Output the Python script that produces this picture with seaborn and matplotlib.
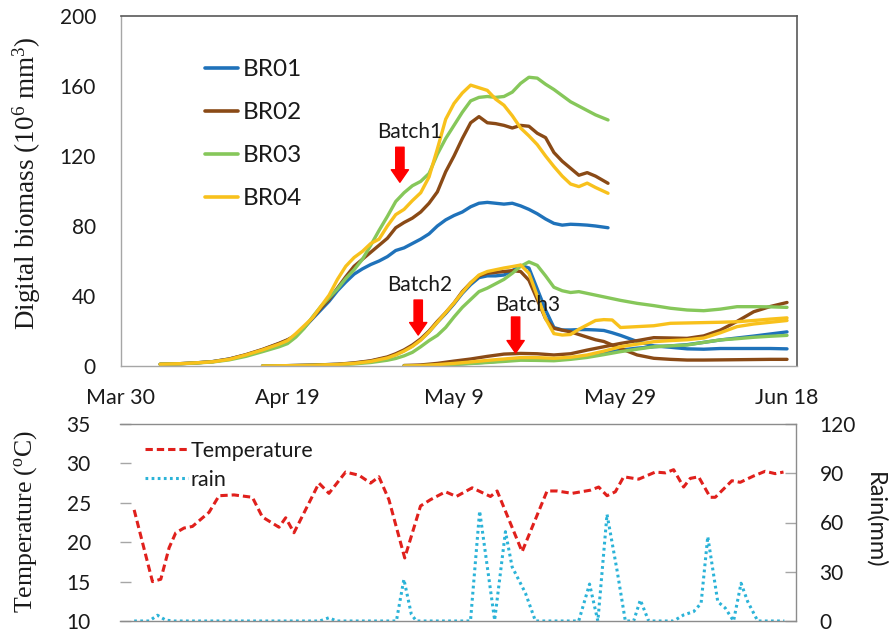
import matplotlib
matplotlib.use("Agg")
import matplotlib.pyplot as plt
from matplotlib.lines import Line2D
import pandas as pd
import seaborn as sns

# ---- data --------------------------------------------------------------
# x positions are days after Mar 30
date_ticks = [0, 20, 40, 60, 80]
date_labels = ["Mar 30", "Apr 19", "May 9", "May 29", "Jun 18"]

cultivars = ["BR01", "BR02", "BR03", "BR04"]
cultivar_colors = ["#1F72BA", "#8A4A16", "#86C75A", "#F8C11C"]

batch1_days = [4.7, 7, 9, 11, 13, 15, 17, 19,
               20, 21, 22, 23, 24, 25, 26, 27, 28, 29,
               30, 31, 32, 33, 34, 35, 36, 37, 38, 39,
               40, 41, 42, 43, 44, 45, 46, 47, 48, 49,
               50, 51, 52, 53, 54, 55, 56, 57, 58.5]
br01_batch1 = [1.0, 1.3, 1.8, 2.5, 4.0, 6.3, 9.3, 12.8,
               14.8, 17.5, 22, 27, 32, 37, 43, 48, 52.5, 55.5,
               58, 60, 62.5, 66, 67.5, 70, 72.5, 75.5, 80, 83.5,
               86, 88, 91, 93, 93.5, 93, 92.5, 93, 91.5, 89.5,
               87, 84, 81.5, 80.5, 81, 80.8, 80.5, 80, 79]
br02_batch1 = [1.0, 1.3, 1.8, 2.5, 4.0, 6.5, 9.5, 13,
               15, 17.5, 22, 27.5, 33, 38, 44.5, 51, 57, 61,
               65, 69, 73, 79, 82, 84.5, 88, 93, 99.5, 111,
               120, 130, 139, 142.5, 139, 138.5, 137.5, 136, 137.5, 137,
               133, 130.5, 122, 117, 113, 109, 110.5, 108.5, 104.4]
br03_batch1 = [1.0, 1.2, 1.7, 2.3, 3.5, 5.5, 8.2, 11,
               12.8, 16.5, 21.5, 28, 34, 39, 44, 50, 55, 61,
               69, 77.5, 85.5, 94, 99, 103, 105.5, 110, 121, 130,
               137.5, 145, 151.5, 153.5, 154, 153.5, 154, 156.5, 161.5, 165,
               164.5, 161, 158, 154.5, 151, 148.5, 146, 143.5, 140.6]
br04_batch1 = [1.0, 1.3, 1.8, 2.4, 3.8, 6.3, 9.2, 12.5,
               14.5, 18.5, 23, 27.5, 34, 40.5, 49.5, 57, 62, 65.5,
               70, 72.5, 80, 86.5, 89.5, 94.5, 99, 108, 124, 141,
               150, 156, 160.5, 159, 157.5, 152.5, 149, 143, 136, 131.5,
               126.5, 120, 114, 108.5, 104, 102.5, 104.5, 102, 98.7]

batch2_days = [17, 20, 23, 26, 28, 30, 32,
               33, 34, 35, 36, 37, 38, 39, 40, 41, 42,
               43, 44, 45, 46, 47, 48, 49, 50, 51, 52,
               53, 54, 55, 56, 57, 58, 59, 60,
               62, 64, 66, 68, 70, 72, 74, 76, 78, 80]
br01_batch2 = [0, 0.2, 0.5, 1.0, 1.6, 2.8, 4.8,
               6.5, 8.8, 11.5, 15, 19.5, 25, 30, 35.5, 41.5, 46.5,
               50.5, 51.5, 51.5, 52, 54.5, 57.5, 56, 44, 32, 22,
               20.6, 20.6, 20.8, 20.8, 20.6, 20.3, 19, 17.5,
               14, 11.5, 10.7, 9.8, 9.6, 10, 10, 10, 10, 9.8]
br02_batch2 = [0, 0.2, 0.5, 1.0, 1.8, 3.0, 5.2,
               7.0, 9.2, 12, 15.5, 20, 25.5, 30.5, 36, 42.5, 47.5,
               51.5, 53, 53.5, 54, 54.5, 54, 49, 38, 27, 21.5,
               20.5, 19.5, 18, 16.5, 15, 14, 12, 10,
               6.3, 4.4, 3.8, 3.4, 3.4, 3.5, 3.6, 3.7, 3.8, 3.8]
br03_batch2 = [0, 0.1, 0.3, 0.7, 1.2, 2.0, 3.3,
               4.3, 5.8, 7.8, 11, 14.5, 17.5, 22, 28, 33.5, 38,
               42.5, 44.5, 47, 49.5, 53, 57, 59.5, 57.5, 51.5, 45,
               43, 42, 42.5, 41.5, 40.5, 39.5, 38.5, 37.5,
               35.8, 34.5, 33, 32, 31.6, 32.5, 33.9, 33.9, 33.8, 33.5]
br04_batch2 = [0, 0.2, 0.4, 0.9, 1.5, 2.6, 4.6,
               6.3, 8.5, 11.2, 14.8, 19.5, 25, 30.5, 36, 42, 47.5,
               52, 54, 55, 56, 56.8, 57.7, 53, 40, 27, 18.5,
               17.7, 18, 21, 23.5, 26, 26.5, 26.3, 22,
               22.5, 23, 24.4, 24.6, 24.8, 25, 25.3, 26, 26.8, 27.5]

batch3_days = [34, 36, 38, 40, 42, 44, 46, 48, 50, 52, 54, 56,
               58, 60, 62, 64, 66, 68, 70, 72, 74, 76, 78, 80]
br01_batch3 = [0, 0.2, 0.6, 1, 1.6, 2.2, 3, 4, 3.8, 3.4, 4.3, 5.7,
               7.3, 9.1, 10.2, 11, 11.5, 12.2, 13.5, 14.9, 16, 17.1, 18.3, 19.5]
br02_batch3 = [0.3, 0.6, 1.5, 2.8, 4, 5.5, 6.8, 7.2, 7.0, 6.3, 7.0, 9.1,
               11, 12.9, 14.5, 16.2, 16, 15.8, 17.2, 20.5, 25.5, 31, 34, 36.3]
br03_batch3 = [0, 0.2, 0.5, 0.9, 1.4, 2, 2.6, 3.3, 3.2, 3, 3.8, 4.9,
               6.5, 8.2, 9.6, 11, 11.5, 12, 13.5, 14.9, 15.6, 16.4, 17, 17.5]
br04_batch3 = [0, 0.2, 0.8, 1.5, 2.3, 3.2, 4, 4.8, 4.8, 4.4, 5, 6.3,
               8.5, 11, 12.5, 13.9, 14.5, 15, 16, 19, 22.5, 24, 25, 26]

batch_names = ["Batch1", "Batch2", "Batch3"]
batch_arrow_days = [33.5, 35.7, 47.4]
batch_arrow_from = [125, 37.7, 28]
batch_arrow_to = [105, 17.7, 7.4]
batch_label_days = [34.7, 35.9, 48.8]
batch_label_values = [133.7, 46.3, 35]

temp_days = [1.7, 3.9, 4.9, 5.9, 6.7, 7.7, 8.7, 10.7, 11.9, 13.7, 15.9, 17.1,
             19.1, 19.9, 20.9, 23.9, 25.1, 27.1, 28.7, 30.1, 31.1, 32.3, 34.2,
             36.1, 37.3, 39.1, 40.4, 42.3, 44.5, 45.3, 48.3, 51.3, 52.5, 54.3,
             56.5, 57.5, 58.5, 59.5, 60.5, 62.3, 64.3, 65.5, 66.5, 67.7, 68.5,
             69.5, 70.9, 71.5, 73.5, 74.5, 76.1, 77.5, 78.7, 79.7]
temperature = [24.1, 15.0, 15.3, 19.3, 21.2, 21.8, 22.0, 23.8, 25.9, 26.0, 25.7, 23.2,
               21.9, 23.1, 21.2, 27.5, 26.2, 28.9, 28.5, 27.5, 28.3, 25.4, 18.0,
               24.6, 25.4, 26.4, 25.8, 26.9, 25.8, 26.5, 18.8, 26.5, 26.5, 26.2,
               26.6, 27.0, 25.9, 26.4, 28.3, 28.0, 28.9, 28.8, 29.2, 27.0, 28.1,
               28.3, 25.7, 25.7, 27.8, 27.6, 28.4, 29.0, 28.7, 28.9]

rain_days = [1.7, 3.5, 4.5, 5.5, 6.5, 24.0, 25.1, 26.0, 33.2, 34.1, 35.0, 35.6,
             42.1, 43.2, 45.0, 46.3, 47.1, 47.9, 48.7, 49.9, 55.1, 56.4, 57.4,
             58.5, 59.7, 60.7, 61.7, 62.5, 63.5, 66.5, 67.7, 68.9, 69.8, 70.6,
             71.8, 72.7, 73.7, 74.6, 75.4, 76.6, 79.8]
rain = [0, 0, 3.5, 0.5, 0, 0, 2, 0, 0, 25.4, 4, 0,
        0, 67, 0.5, 54.4, 33, 25, 17, 0, 0, 22.5, 0,
        65, 31, 0, 0, 12.8, 0, 0, 3.7, 5.7, 10.8, 51.4,
        11.8, 7.9, 0, 23, 11.8, 0, 0]

# ---- tidy table for the biomass panel ---------------------------------
batches = [
    ("Batch1", batch1_days, [br01_batch1, br02_batch1, br03_batch1, br04_batch1]),
    ("Batch2", batch2_days, [br01_batch2, br02_batch2, br03_batch2, br04_batch2]),
    ("Batch3", batch3_days, [br01_batch3, br02_batch3, br03_batch3, br04_batch3]),
]
rows = []
for batch, days, series in batches:
    for name, values in zip(cultivars, series):
        for d, v in zip(days, values):
            rows.append((batch, name, d, v))
biomass = pd.DataFrame(rows, columns=["batch", "cultivar", "day", "biomass"])

# ---- style ----------------------------------------------------------------
sns.set_theme(style="white")
plt.rcParams["font.family"] = ["Lato", "DejaVu Sans"]
plt.rcParams["mathtext.default"] = "regular"
text_color = "#1a1a1a"
serif = ["Liberation Serif", "DejaVu Serif"]

fig = plt.figure(figsize=(8.91, 6.33), dpi=100)
ax = fig.add_axes([121 / 891, 267 / 633, 676 / 891, 350 / 633])
ax_t = fig.add_axes([120 / 891, 12 / 633, 676 / 891, 197 / 633])

# ---- biomass panel -------------------------------------------------------
palette = dict(zip(cultivars, cultivar_colors))
sns.lineplot(data=biomass, x="day", y="biomass", hue="cultivar", units="batch",
             estimator=None, sort=False, palette=palette, lw=2.4,
             legend=False, ax=ax)

ax.set_xlim(0, 81.2)
ax.set_ylim(0, 200)
ax.set_yticks(range(0, 201, 40))
ax.set_xticks(date_ticks)
ax.set_xticklabels(date_labels)
ax.set_xlabel("")
ax.set_ylabel("")
ax.tick_params(axis="y", direction="in", length=9, width=1, color="#a6a6a6",
               pad=18, labelsize=15, labelcolor=text_color)
ax.tick_params(axis="x", length=0, pad=15.5, labelsize=15.5, labelcolor=text_color)
for side in ("top", "right"):
    ax.spines[side].set_color("#595959")
    ax.spines[side].set_linewidth(1.2)
for side in ("left", "bottom"):
    ax.spines[side].set_color("#a6a6a6")
    ax.spines[side].set_linewidth(1.0)

handles = [Line2D([], [], color=c, lw=2.6) for c in cultivar_colors]
ax.legend(handles, cultivars, loc="upper left", bbox_to_anchor=(0.1240, 0.876),
          frameon=False, fontsize=17.5, handlelength=1.35, handletextpad=0.2,
          labelspacing=0.9, borderpad=0, borderaxespad=0, labelcolor=text_color)

for name, d, y0, y1, ld, lv in zip(batch_names, batch_arrow_days, batch_arrow_from,
                                   batch_arrow_to, batch_label_days, batch_label_values):
    ax.annotate("", xy=(d, y1), xytext=(d, y0),
                arrowprops=dict(arrowstyle="simple,head_length=0.45,head_width=0.62,tail_width=0.3",
                                color="#FF0000", shrinkA=0, shrinkB=0, mutation_scale=20))
    ax.text(ld, lv, name, ha="center", va="center", fontsize=15, color=text_color)

# ---- weather panel -----------------------------------------------------
temp_color = "#E0201C"
rain_color = "#2BB3D8"
temp_style = (0, (2.4, 1.3))
rain_style = (0, (0.9, 1.1))

sns.lineplot(x=temp_days, y=temperature, ax=ax_t, color=temp_color, lw=2.2,
             linestyle=temp_style)
ax_r = ax_t.twinx()
sns.lineplot(x=rain_days, y=rain, ax=ax_r, color=rain_color, lw=2.2,
             linestyle=rain_style)

ax_t.set_xlim(0, 81.2)
ax_t.set_ylim(10, 35)
ax_t.set_yticks(range(10, 36, 5))
ax_r.set_ylim(0, 120)
ax_r.set_yticks(range(0, 121, 30))
ax_t.set_xlabel("")
ax_t.set_ylabel("")
ax_r.set_ylabel("")
ax_t.tick_params(axis="x", bottom=False, labelbottom=False)
ax_t.tick_params(axis="y", direction="in", length=8, width=1, color="#a6a6a6",
                 pad=21, labelsize=15, labelcolor=text_color)
ax_r.tick_params(axis="y", direction="in", length=8, width=1, color="#a6a6a6",
                 pad=17, labelsize=15, labelcolor=text_color)
ax_t.spines["left"].set_visible(False)
for side in ("top", "right", "bottom"):
    ax_t.spines[side].set_color("#8c8c8c")
    ax_t.spines[side].set_linewidth(1.0)
for side in ax_r.spines:
    ax_r.spines[side].set_visible(False)
ax_r.set_zorder(ax_t.get_zorder() - 1)
ax_t.patch.set_visible(False)

weather_handles = [Line2D([], [], color=temp_color, lw=2.2, linestyle=temp_style),
                   Line2D([], [], color=rain_color, lw=2.2, linestyle=rain_style)]
ax_t.legend(weather_handles, ["Temperature", "rain"], loc="upper left",
            bbox_to_anchor=(0.037, 0.915), frameon=False, fontsize=15.5,
            handlelength=2.0, handletextpad=0.12, labelspacing=0.42,
            borderpad=0, borderaxespad=0, labelcolor=text_color)

# ---- axis titles ------------------------------------------------------------
fig.text(27 / 891, 1 - 183 / 633, "Digital biomass (10$^{6}$ mm$^{3}$)",
         rotation=90, ha="center", va="center", fontsize=19.5, family=serif,
         color=text_color)
fig.text(26 / 891, 1 - 522 / 633, "Temperature ($^{o}$C)",
         rotation=90, ha="center", va="center", fontsize=18.5, family=serif,
         color=text_color)
fig.text(875 / 891, 1 - 520 / 633, "Rain(mm)", rotation=-90, ha="center",
         va="center", fontsize=17, color=text_color)

fig.savefig("out.png", dpi=100)
